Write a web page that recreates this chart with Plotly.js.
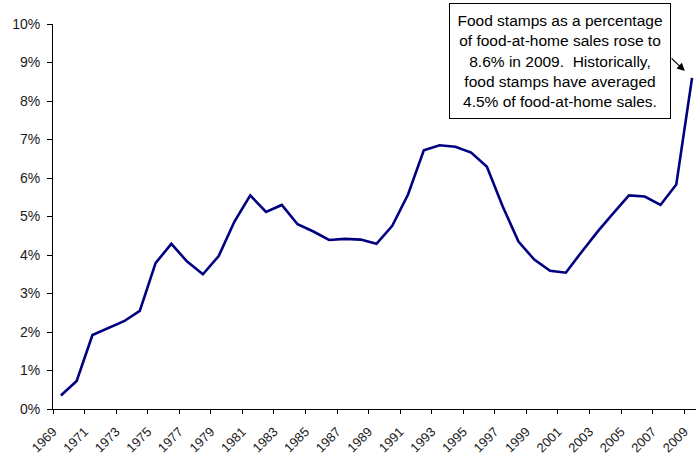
<!DOCTYPE html>
<html>
<head>
<meta charset="utf-8">
<script src="https://cdn.plot.ly/plotly-3.0.1.min.js"></script>
<style>
  html, body { margin: 0; padding: 0; background: #ffffff; }
  #chart { width: 696px; height: 458px; }
</style>
</head>
<body>
<div id="chart"></div>
<script>
// Fiscal years covered by the series
const years = [
  1969, 1970, 1971, 1972, 1973, 1974, 1975, 1976, 1977, 1978,
  1979, 1980, 1981, 1982, 1983, 1984, 1985, 1986, 1987, 1988,
  1989, 1990, 1991, 1992, 1993, 1994, 1995, 1996, 1997, 1998,
  1999, 2000, 2001, 2002, 2003, 2004, 2005, 2006, 2007, 2008,
  2009
];

// Food stamps as a percentage of food-at-home sales
const foodStampShare = [
  0.35, 0.73, 1.92, 2.10, 2.28, 2.55, 3.79, 4.29, 3.83, 3.50,
  3.97, 4.87, 5.55, 5.12, 5.30, 4.80, 4.61, 4.39, 4.42, 4.40,
  4.29, 4.76, 5.57, 6.72, 6.85, 6.81, 6.66, 6.29, 5.26, 4.35,
  3.88, 3.59, 3.54, 4.08, 4.60, 5.08, 5.55, 5.52, 5.30, 5.83,
  8.6
];

// Every other year is labelled on the category axis
const yearLabels = [
  '1969', '1971', '1973', '1975', '1977', '1979', '1981', '1983',
  '1985', '1987', '1989', '1991', '1993', '1995', '1997', '1999',
  '2001', '2003', '2005', '2007', '2009'
];

const noteText = 'Food stamps as a percentage<br>of food-at-home sales rose to<br>' +
  '8.6% in 2009.  Historically,<br>food stamps have averaged<br>4.5% of food-at-home sales.';

// Ticks sit on the boundaries between categories
const tickPositions = yearLabels.map(function (y) { return Number(y) - 0.5; });

const lastIdx = years.length - 1;

const trace = {
  x: years,
  y: foodStampShare,
  type: 'scatter',
  mode: 'lines',
  line: { color: '#000080', width: 2.6 },
  hoverinfo: 'x+y'
};

const layout = {
  width: 696,
  height: 458,
  margin: { l: 53, r: 0, t: 24, b: 49, pad: 0 },
  paper_bgcolor: '#ffffff',
  plot_bgcolor: '#ffffff',
  showlegend: false,
  font: { family: 'Arial, "Liberation Sans", sans-serif', color: '#1a1a1a' },
  xaxis: {
    range: [1968.5, 2009.25],
    tickmode: 'array',
    tickvals: tickPositions,
    ticktext: yearLabels,
    tickangle: -45,
    ticks: 'outside',
    ticklen: 4,
    tickwidth: 1,
    tickcolor: '#000000',
    showline: true,
    linecolor: '#000000',
    linewidth: 1,
    showgrid: false,
    zeroline: false,
    ticklabelstandoff: 5,
    tickfont: { size: 13, color: '#1a1a1a' },
    fixedrange: true
  },
  yaxis: {
    range: [0, 10],
    dtick: 1,
    ticksuffix: '%',
    ticks: 'outside',
    ticklen: 5,
    tickwidth: 1,
    tickcolor: '#000000',
    showline: true,
    linecolor: '#000000',
    linewidth: 1,
    showgrid: false,
    zeroline: false,
    ticklabelstandoff: 4,
    tickfont: { size: 14, color: '#1a1a1a' },
    fixedrange: true
  },
  annotations: [
    {
      xref: 'paper',
      yref: 'paper',
      x: 0.789,
      y: 0.905,
      xanchor: 'center',
      yanchor: 'middle',
      text: noteText,
      showarrow: false,
      align: 'center',
      valign: 'middle',
      width: 216,
      height: 110,
      font: { size: 15.5, color: '#000000' },
      bgcolor: '#ffffff',
      bordercolor: '#000000',
      borderwidth: 1,
      borderpad: 2
    },
    {
      x: years[lastIdx],
      y: foodStampShare[lastIdx],
      xref: 'x',
      yref: 'y',
      text: '',
      showarrow: true,
      arrowhead: 2,
      arrowsize: 1.3,
      arrowwidth: 1.2,
      arrowcolor: '#000000',
      standoff: 10,
      ax: -22,
      ay: -21
    }
  ]
};

Plotly.newPlot('chart', [trace], layout, { staticPlot: true, displayModeBar: false });
</script>
</body>
</html>
